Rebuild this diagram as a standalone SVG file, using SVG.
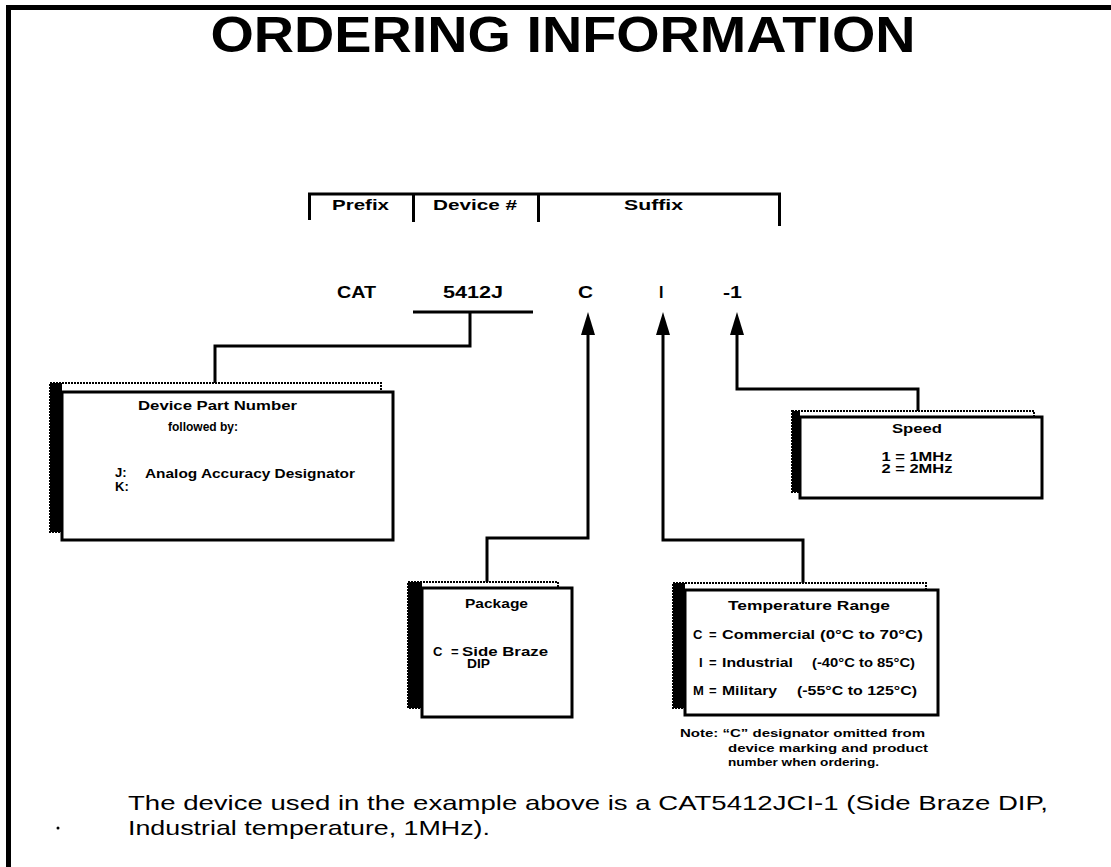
<svg xmlns="http://www.w3.org/2000/svg" xmlns:xlink="http://www.w3.org/1999/xlink" width="1111" height="867" viewBox="0 0 1111 867">
<defs>
<style>
text{font-family:"Liberation Sans",Arial,sans-serif;fill:#000}
.b{font-weight:bold}
.ln{fill:none;stroke:#000;stroke-width:3}
.sh{fill:#fff;stroke:#000;stroke-width:2;stroke-dasharray:2 1}
.shl{fill:#000}
.bx{fill:#fff;stroke:#000;stroke-width:3}
</style>
<path id="ah" d="M0,0 L-7,23 L7,23 Z" fill="#000"/>
</defs>
<rect width="1111" height="867" fill="#fff"/>
<path d="M8.5,867 V7.5 H1111" fill="none" stroke="#000" stroke-width="5"/>
<text class="b" x="563" y="52" font-size="50" text-anchor="middle" textLength="705" lengthAdjust="spacingAndGlyphs">ORDERING INFORMATION</text>

<g id="header">
<path class="ln" d="M309.5,220 V194 H779.5 V226 M413.5,194 V222 M538.5,194 V222"/>
<text class="b" x="332" y="210" font-size="15" textLength="57" lengthAdjust="spacingAndGlyphs">Prefix</text>
<text class="b" x="433" y="210" font-size="15" textLength="84" lengthAdjust="spacingAndGlyphs">Device #</text>
<text class="b" x="624" y="210" font-size="15" textLength="59" lengthAdjust="spacingAndGlyphs">Suffix</text>
</g>

<g id="partnumber">
<text class="b" x="337" y="298" font-size="16" textLength="39" lengthAdjust="spacingAndGlyphs">CAT</text>
<text class="b" x="443" y="298" font-size="16" textLength="60" lengthAdjust="spacingAndGlyphs">5412J</text>
<text class="b" x="578" y="298" font-size="16" textLength="15" lengthAdjust="spacingAndGlyphs">C</text>
<text class="b" x="659" y="298" font-size="16">I</text>
<text class="b" x="723" y="298" font-size="16" textLength="19" lengthAdjust="spacingAndGlyphs">-1</text>
</g>

<g id="connectors">
<path class="ln" d="M413,312 H533 M470,312 V346 H215 V383"/>
<path class="ln" d="M588,330 V538 H487 V583"/>
<path class="ln" d="M663,330 V540 H803 V583"/>
<path class="ln" d="M737,330 V389 H918 V412"/>
<use xlink:href="#ah" x="588" y="312"/>
<use xlink:href="#ah" x="663" y="312"/>
<use xlink:href="#ah" x="737" y="312"/>
</g>

<g id="device-box">
<rect class="sh" x="50" y="383" width="331" height="149"/>
<rect class="shl" x="50" y="383" width="12" height="149"/>
<rect class="bx" x="62" y="392" width="331" height="148"/>
<text class="b" x="138" y="410" font-size="13" textLength="159" lengthAdjust="spacingAndGlyphs">Device Part Number</text>
<text class="b" x="168" y="431" font-size="12" textLength="70" lengthAdjust="spacingAndGlyphs">followed by:</text>
<text class="b" x="115" y="477" font-size="13">J:</text>
<text class="b" x="115" y="491" font-size="13">K:</text>
<text class="b" x="145" y="478" font-size="12" textLength="210" lengthAdjust="spacingAndGlyphs">Analog Accuracy Designator</text>
</g>

<g id="speed-box">
<rect class="sh" x="792" y="411" width="242" height="81"/>
<rect class="shl" x="792" y="411" width="8" height="81"/>
<rect class="bx" x="800" y="417" width="242" height="81"/>
<text class="b" x="917" y="433" font-size="12" text-anchor="middle" textLength="50" lengthAdjust="spacingAndGlyphs">Speed</text>
<text class="b" x="917" y="461" font-size="12" text-anchor="middle" textLength="71" lengthAdjust="spacingAndGlyphs">1 = 1MHz</text>
<text class="b" x="917" y="473" font-size="12" text-anchor="middle" textLength="71" lengthAdjust="spacingAndGlyphs">2 = 2MHz</text>
</g>

<g id="package-box">
<rect class="sh" x="408" y="582" width="150" height="126"/>
<rect class="shl" x="408" y="582" width="14" height="126"/>
<rect class="bx" x="422" y="588" width="150" height="129"/>
<text class="b" x="465" y="608" font-size="13" textLength="63" lengthAdjust="spacingAndGlyphs">Package</text>
<text class="b" x="433" y="656" font-size="13">C</text>
<text class="b" x="451" y="656" font-size="13">=</text>
<text class="b" x="462" y="656" font-size="12" textLength="86" lengthAdjust="spacingAndGlyphs">Side Braze</text>
<text class="b" x="467" y="668" font-size="12" textLength="23" lengthAdjust="spacingAndGlyphs">DIP</text>
</g>

<g id="temperature-box">
<rect class="sh" x="673" y="583" width="253" height="125"/>
<rect class="shl" x="673" y="583" width="12" height="125"/>
<rect class="bx" x="685" y="590" width="253" height="125"/>
<text class="b" x="809" y="610" font-size="13" text-anchor="middle" textLength="162" lengthAdjust="spacingAndGlyphs">Temperature Range</text>
<text class="b" x="693" y="639" font-size="13">C</text>
<text class="b" x="709" y="639" font-size="13">=</text>
<text class="b" x="722" y="639" font-size="13" textLength="93" lengthAdjust="spacingAndGlyphs">Commercial</text>
<text class="b" x="820" y="639" font-size="13" textLength="103" lengthAdjust="spacingAndGlyphs">(0°C to 70°C)</text>
<text class="b" x="699" y="667" font-size="13">I</text>
<text class="b" x="709" y="667" font-size="13">=</text>
<text class="b" x="722" y="667" font-size="13" textLength="71" lengthAdjust="spacingAndGlyphs">Industrial</text>
<text class="b" x="812" y="667" font-size="13" textLength="103" lengthAdjust="spacingAndGlyphs">(-40°C to 85°C)</text>
<text class="b" x="693" y="695" font-size="13">M</text>
<text class="b" x="709" y="695" font-size="13">=</text>
<text class="b" x="722" y="695" font-size="13" textLength="55" lengthAdjust="spacingAndGlyphs">Military</text>
<text class="b" x="797" y="695" font-size="13" textLength="120" lengthAdjust="spacingAndGlyphs">(-55°C to 125°C)</text>
</g>

<g id="note">
<text class="b" x="680" y="737" font-size="11" textLength="245" lengthAdjust="spacingAndGlyphs">Note: “C” designator omitted from</text>
<text class="b" x="728" y="752" font-size="11" textLength="200" lengthAdjust="spacingAndGlyphs">device marking and product</text>
<text class="b" x="728" y="766" font-size="11" textLength="151" lengthAdjust="spacingAndGlyphs">number when ordering.</text>
</g>

<g id="footer">
<text x="128" y="810" font-size="21" textLength="920" lengthAdjust="spacingAndGlyphs">The device used in the example above is a CAT5412JCI-1 (Side Braze DIP,</text>
<text x="128" y="835" font-size="21" textLength="362" lengthAdjust="spacingAndGlyphs">Industrial temperature, 1MHz).</text>
<circle cx="58" cy="828" r="1.5" fill="#000"/>
</g>
</svg>
